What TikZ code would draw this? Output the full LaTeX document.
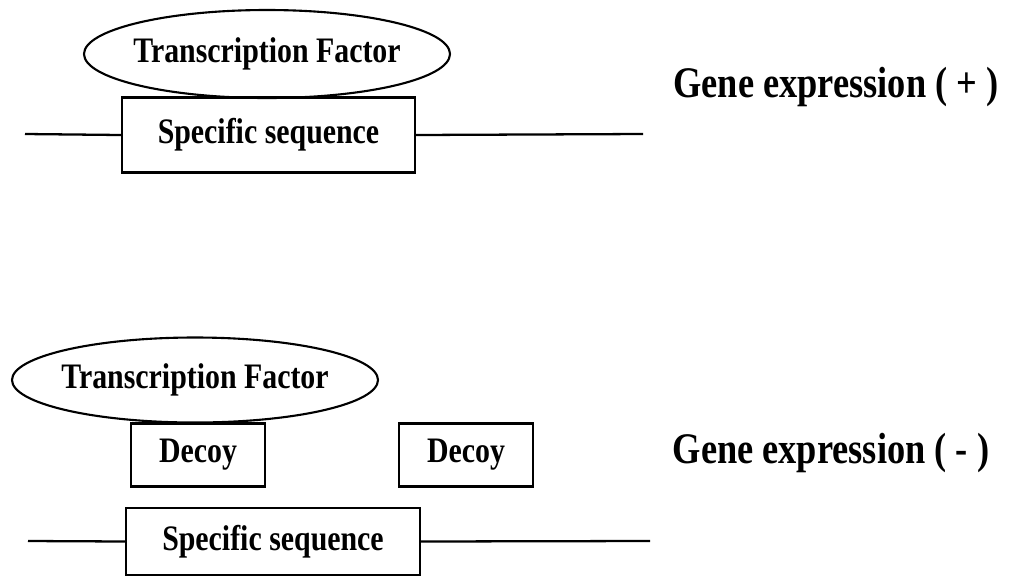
\documentclass[tikz,border=0pt]{standalone}
\usepackage{fontspec}
\setmainfont{Liberation Serif}
\usetikzlibrary{shapes.geometric}
\newcommand{\tallbf}[2]{\scalebox{1}[1.2]{\fontsize{#1}{#1}\selectfont\bfseries #2}}
\begin{document}
\begin{tikzpicture}[x=0.02cm,y=-0.02cm,
  line/.style={line width=1.3pt},
  tfell/.style={draw,line width=1.2pt,ellipse,inner sep=0pt},
  seqbox/.style={draw,line width=1.3pt,inner sep=0pt},
  lbl/.style={inner sep=0pt}]
\useasboundingbox (0,0) rectangle (1015,576);
% top
\node[tfell,minimum width=366*0.02cm,minimum height=88*0.02cm,
  label={center:\tallbf{17pt}{Transcription Factor}}] (tf1) at (267,54) {};
\node[seqbox,minimum width=293*0.02cm,minimum height=75*0.02cm] (seq1) at (268.5,135) {\tallbf{17pt}{Specific sequence}};
\coordinate (l1a) at (25,134);
\coordinate (l1b) at (643,134);
\draw[line] (l1a) -- (seq1.west);
\draw[line] (seq1.east) -- (l1b);
\node[lbl] (ge1) at (836,87) {\tallbf{20.7pt}{Gene expression ( + )}};
% bottom
\node[tfell,minimum width=366*0.02cm,minimum height=85*0.02cm,
  label={center:\tallbf{17pt}{Transcription Factor}}] (tf2) at (195,380) {};
\node[seqbox,minimum width=134*0.02cm,minimum height=63*0.02cm] (d1) at (198,455) {\tallbf{17pt}{Decoy}};
\node[seqbox,minimum width=134*0.02cm,minimum height=63*0.02cm] (d2) at (466,455) {\tallbf{17pt}{Decoy}};
\node[seqbox,minimum width=294*0.02cm,minimum height=67*0.02cm] (seq2) at (273,541.5) {\tallbf{17pt}{Specific sequence}};
\coordinate (l2a) at (28,541);
\coordinate (l2b) at (650,541);
\draw[line] (l2a) -- (seq2.west);
\draw[line] (seq2.east) -- (l2b);
\node[lbl] (ge2) at (831,453) {\tallbf{20.7pt}{Gene expression ( - )}};
\end{tikzpicture}
\end{document}
